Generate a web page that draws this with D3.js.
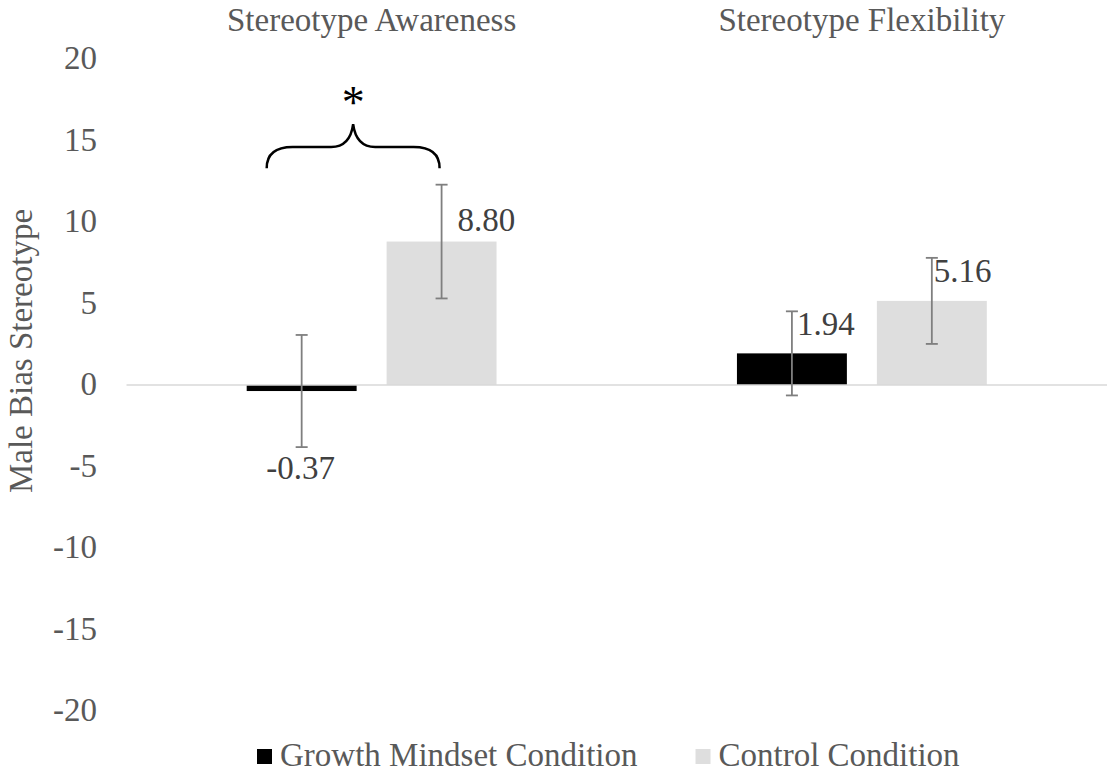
<!DOCTYPE html>
<html>
<head>
<meta charset="utf-8">
<script src="https://cdn.jsdelivr.net/npm/d3@7"></script>
<style>
body { margin: 0; background: #fff; }
text { font-family: "Liberation Serif", "Times New Roman", serif; }
</style>
</head>
<body>
<div id="chart"></div>
<script>
// dati
var categories = ["Stereotype Awareness", "Stereotype Flexibility"];
var series = ["Growth Mindset Condition", "Control Condition"];
var growthValues = [-0.37, 1.94];
var controlValues = [8.80, 5.16];
var growthErr = [3.44, 2.58];
var controlErr = [3.49, 2.64];
var yTicks = [20, 15, 10, 5, 0, -5, -10, -15, -20];
var yTitle = "Male Bias Stereotype";

var colori = ["#000000", "#dedede"];

var width = 1118;
var height = 774;

var svg = d3.select("#chart")
  .append("svg")
  .attr("width", width)
  .attr("height", height);

var x0 = d3.scaleBand()
  .domain(categories)
  .range([126.5, 1107])
  .padding(0);

var x1 = d3.scaleBand()
  .domain(series)
  .range([0, x0.bandwidth()])
  .paddingInner(0.2143)
  .paddingOuter(0.859);

var y = d3.scaleLinear()
  .domain([-20, 20])
  .range([711, 59]);

// tabella per le barre
var rows = [];
for (var i = 0; i < categories.length; i++) {
  rows.push({ cat: categories[i], s: series[0], v: growthValues[i], e: growthErr[i], k: 0 });
  rows.push({ cat: categories[i], s: series[1], v: controlValues[i], e: controlErr[i], k: 1 });
}

// asse y (solo etichette, trattino normale come in Excel)
var yAxis = d3.axisLeft(y)
  .tickValues(yTicks)
  .tickFormat(function(d) { return String(d); })
  .tickSize(0)
  .tickPadding(0);
var gy = svg.append("g")
  .attr("transform", "translate(97,0)")
  .call(yAxis)
  .attr("font-family", null)
  .attr("font-size", null);
gy.select(".domain").remove();
gy.selectAll("text")
  .attr("x", 0)
  .attr("dy", "0.3em")
  .style("font-size", "33px")
  .attr("fill", "#595959");

svg.append("text")
  .attr("transform", "translate(32," + 351 + ") rotate(-90)")
  .attr("text-anchor", "middle")
  .style("font-size", "33px")
  .attr("fill", "#595959")
  .text(yTitle);

// titoli delle categorie in alto
svg.selectAll(".cat")
  .data(categories)
  .enter()
  .append("text")
  .attr("class", "cat")
  .attr("x", function(d) { return x0(d) + x0.bandwidth() / 2; })
  .attr("y", 31)
  .attr("text-anchor", "middle")
  .style("font-size", "33px")
  .attr("fill", "#595959")
  .text(function(d) { return d; });

// barre
svg.selectAll(".bar")
  .data(rows)
  .enter()
  .append("rect")
  .attr("class", "bar")
  .attr("x", function(d) { return x0(d.cat) + x1(d.s); })
  .attr("y", function(d) { return y(Math.max(0, d.v)); })
  .attr("width", x1.bandwidth())
  .attr("height", function(d) { return Math.abs(y(d.v) - y(0)); })
  .attr("fill", function(d) { return colori[d.k]; });

// linea dello zero
svg.append("line")
  .attr("x1", x0.range()[0])
  .attr("x2", x0.range()[1])
  .attr("y1", y(0))
  .attr("y2", y(0))
  .attr("stroke", "#d9d9d9")
  .attr("stroke-width", 1.5);

// barre di errore
var eb = svg.selectAll(".err")
  .data(rows)
  .enter()
  .append("g")
  .attr("class", "err")
  .attr("stroke", "#7f7f7f")
  .attr("stroke-width", 1.8);
function cx(d) { return x0(d.cat) + x1(d.s) + x1.bandwidth() / 2; }
eb.append("line")
  .attr("x1", cx).attr("x2", cx)
  .attr("y1", function(d) { return y(d.v + d.e); })
  .attr("y2", function(d) { return y(d.v - d.e); });
eb.append("line")
  .attr("x1", function(d) { return cx(d) - 6; })
  .attr("x2", function(d) { return cx(d) + 6; })
  .attr("y1", function(d) { return y(d.v + d.e); })
  .attr("y2", function(d) { return y(d.v + d.e); });
eb.append("line")
  .attr("x1", function(d) { return cx(d) - 6; })
  .attr("x2", function(d) { return cx(d) + 6; })
  .attr("y1", function(d) { return y(d.v - d.e); })
  .attr("y2", function(d) { return y(d.v - d.e); });

// etichette dei valori (spostate a mano come nell'originale)
// ordine: rows -> [growth cat0, control cat0, growth cat1, control cat1]
var nudge = [[-1, 88, "middle"], [16, -11, "start"], [5, -18, "start"], [2, -19, "start"]];
svg.selectAll(".lab")
  .data(rows)
  .enter()
  .append("text")
  .attr("class", "lab")
  .attr("x", function(d, i) { return cx(d) + nudge[i][0]; })
  .attr("y", function(d, i) { return y(d.v) + nudge[i][1]; })
  .attr("text-anchor", function(d, i) { return nudge[i][2]; })
  .style("font-size", "33px")
  .attr("fill", "#404040")
  .text(function(d) { return d.v.toFixed(2); });

// graffa e asterisco sopra il primo gruppo
var bl = x0(categories[0]) + x1(series[0]) + 20;
var br = x0(categories[0]) + x1(series[1]) + x1.bandwidth() / 2 - 2;
var bm = (bl + br) / 2;
var yEnd = y(13.3), yFlat = y(14.6), yTop = y(16.0);
var brace = "M" + bl + "," + yEnd +
  " Q" + bl + "," + yFlat + " " + (bl + 26) + "," + yFlat +
  " L" + (bm - 22) + "," + yFlat +
  " Q" + (bm - 3) + "," + yFlat + " " + bm + "," + yTop +
  " Q" + (bm + 3) + "," + yFlat + " " + (bm + 22) + "," + yFlat +
  " L" + (br - 26) + "," + yFlat +
  " Q" + br + "," + yFlat + " " + br + "," + yEnd;
svg.append("path")
  .attr("d", brace)
  .attr("fill", "none")
  .attr("stroke", "#000")
  .attr("stroke-width", 2.5);

svg.append("text")
  .attr("x", bm)
  .attr("y", yTop - 6)
  .attr("text-anchor", "middle")
  .style("font-size", "46px")
  .attr("fill", "#000")
  .text("*");

// legenda
var lx = 257;
var leg = svg.append("g");
for (var j = 0; j < series.length; j++) {
  leg.append("rect")
    .attr("x", lx)
    .attr("y", 749)
    .attr("width", 15)
    .attr("height", 15)
    .attr("fill", colori[j]);
  var t = leg.append("text")
    .attr("x", lx + 23)
    .attr("y", 766)
    .style("font-size", "33px")
    .attr("fill", "#595959")
    .text(series[j]);
  lx = lx + 23 + t.node().getComputedTextLength() + 58;
}
</script>
</body>
</html>
